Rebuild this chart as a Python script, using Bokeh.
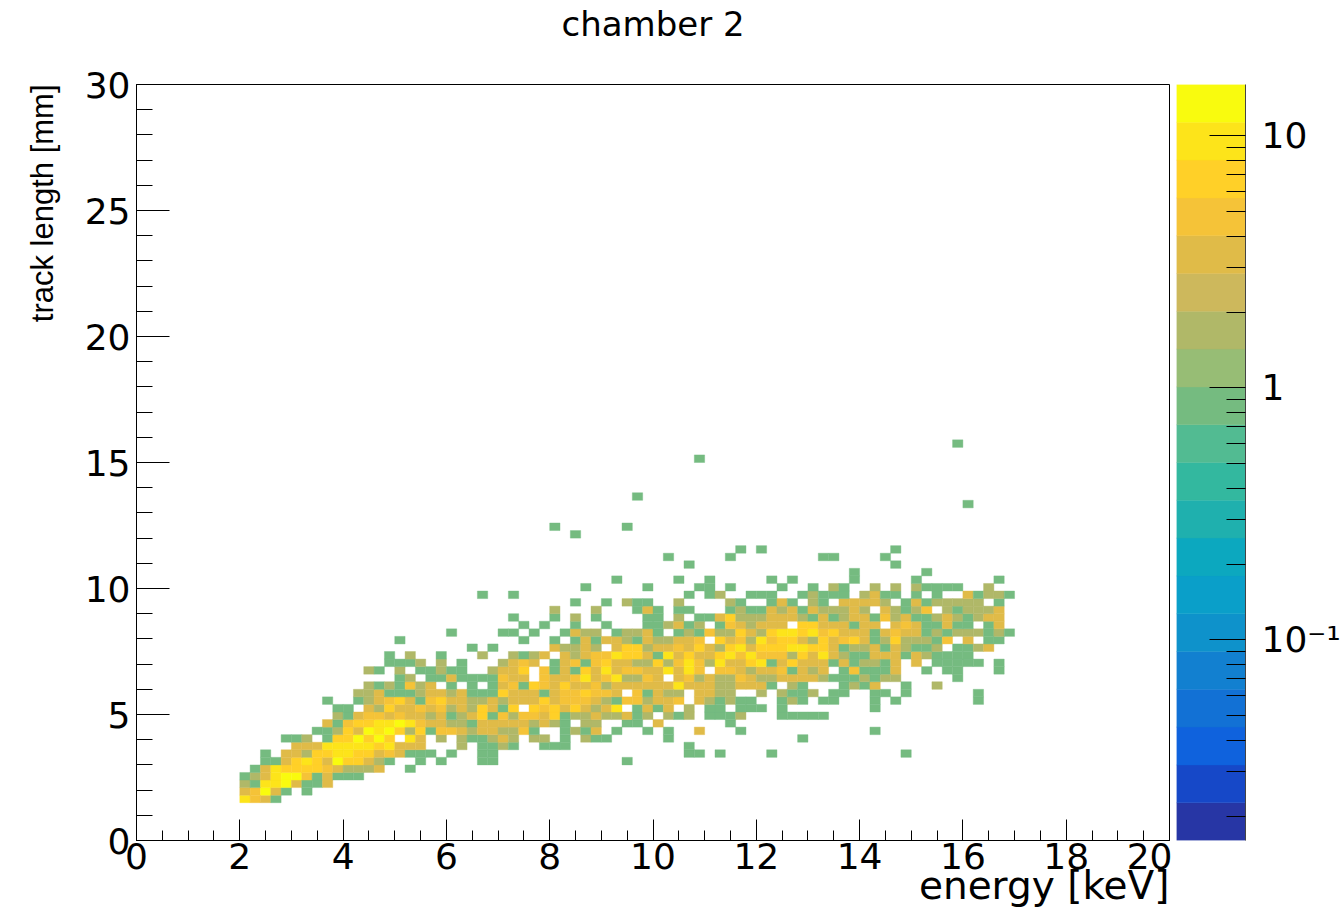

import numpy as np
from bokeh.embed import file_html
from bokeh.layouts import row
from bokeh.models import ColumnDataSource, FixedTicker, LinearAxis, LogColorMapper, SingleIntervalTicker, Title
from bokeh.plotting import figure
from bokeh.resources import INLINE
from bokeh.transform import transform

title_text = "chamber 2"
x_label = "energy [keV]"
y_label = "track length [mm]"

n_bins = 100
x_max = 20.0
y_max = 30.0
z_low = 0.016
z_high = 16.0

palette = ["#2736a5", "#1648c8", "#0f62dd", "#1271d5", "#1280d0", "#0e92cb", "#0a9fc9",
           "#0ca8bf", "#1fb0ae", "#33b89f", "#52bb92", "#75bb80", "#97bd75", "#b0b868",
           "#cdb85c", "#e0bb48", "#f5c338", "#ffd028", "#fde41a", "#f9fb0e"]

# counts: digit in a row string -> bin content
count_of_digit = [0, 1, 2, 3, 5, 7, 10, 14]

# one list per track-length bin: (first energy bin, digits of consecutive bins)
row_05 = [(10, "6431")]
row_06 = [(10, "3473101")]
row_07 = [(10, "216673113")]
row_08 = [(10, "123677413111")]
row_09 = [(11, "1365555432223001")]
row_10 = [(12, "1135653755321001010001"), (34, "1"), (47, "1")]
row_11 = [(12, "1033255665534311101001"), (34, "1"), (53, "11"), (56, "1"), (61, "1"), (74, "1")]
row_12 = [(15, "3336666656333000201"), (34, "121"), (39, "111"), (53, "1")]
row_13 = [(14, "11201557575063020211"), (34, "232"), (38, "22"), (41, "1"), (43, "211"), (51, "1"), (64, "1")]
row_14 = [(17, "11253767525144323"), (34, "32241"), (41, "1213"), (46, "1"), (49, "1"), (51, "1"), (54, "3"), (58, "1"), (71, "1")]
row_15 = [(18, "3145566764332213"), (34, "33332321"), (43, "22"), (47, "11"), (50, "3"), (57, "1")]
row_16 = [(19, "213443433231235"), (34, "14244351"), (42, "22322312"), (51, "212"), (55, "111"), (58, "2"), (62, "11111")]
row_17 = [(19, "110325334342325"), (34, "3150545353236"), (48, "1313"), (53, "2"), (55, "11"), (58, "111"), (62, "1"), (71, "1")]
row_18 = [(18, "1001234531453322"), (34, "3233353444321442334032121"), (59, "1"), (62, "121"), (66, "11"), (71, "1"), (73, "1"), (81, "1")]
row_19 = [(21, "2231112332311"), (34, "153331344544304132203322"), (60, "2"), (62, "2112"), (67, "11"), (71, "11"), (74, "1"), (81, "1")]
row_20 = [(22, "21214230101"), (34, "1341543533423333336333223"), (59, "331"), (63, "21"), (68, "1213"), (74, "1"), (77, "2")]
row_21 = [(25, "120113111"), (34, "1433043346346224303423224"), (59, "322333321112122"), (79, "1")]
row_22 = [(22, "2102011211"), (34, "2335041315"), (44, "3634433636"), (54, "40443"), (59, "233413230141113"), (76, "1"), (78, "11"), (83, "1")]
row_23 = [(24, "11120201"), (35, "234301341453322524642633"), (59, "5613533313122130301111101")]
row_24 = [(24, "1020010002"), (36, "21230323446553163533564"), (59, "6444253632113331321111")]
row_25 = [(32, "1"), (34, "1"), (40, "3223203552334353256"), (59, "355566553122313211201123")]
row_26 = [(25, "1"), (37, "1"), (40, "1"), (42, "13133213223340534"), (59, "2645532534531252221403011")]
row_27 = [(30, "1"), (35, "11"), (38, "1"), (41, "132201223101214225"), (59, "32566564533313433121222121")]
row_28 = [(37, "1"), (39, "1"), (42, "1"), (45, "1"), (49, "112312"), (56, "143"), (59, "2333055333133034311311013")]
row_29 = [(36, "1"), (40, "1"), (42, "2"), (44, "1"), (49, "11"), (52, "2"), (54, "11"), (56, "352"), (59, "2233321312331423112321233")]
row_30 = [(40, "2"), (44, "2"), (48, "131"), (52, "11"), (57, "12"), (59, "1132313222320321240212223")]
row_31 = [(42, "1"), (45, "1"), (47, "211"), (52, "2"), (57, "21"), (61, "1310210333320131"), (77, "22222"), (83, "1")]
row_32 = [(33, "1"), (36, "1"), (53, "1"), (55, "12"), (59, "111"), (64, "12111"), (70, "2311"), (75, "1"), (77, "1"), (80, "31221")]
row_33 = [(43, "1"), (49, "1"), (54, "11"), (57, "1"), (62, "1"), (65, "1"), (67, "21"), (71, "2"), (73, "2"), (75, "21111"), (82, "2")]
row_34 = [(46, "1"), (52, "1"), (55, "1"), (61, "1"), (63, "1"), (69, "1"), (75, "1"), (83, "1")]
row_35 = [(69, "1"), (76, "1")]
row_36 = [(53, "1"), (73, "1")]
row_37 = [(51, "1"), (57, "1"), (66, "11"), (72, "1")]
row_38 = [(58, "1"), (60, "1"), (73, "1")]
row_40 = [(42, "1")]
row_41 = [(40, "1"), (47, "1")]
row_44 = [(80, "1")]
row_45 = [(48, "1")]
row_50 = [(54, "1")]
row_52 = [(79, "1")]

rows = {5: row_05, 6: row_06, 7: row_07, 8: row_08, 9: row_09, 10: row_10, 11: row_11, 12: row_12,
        13: row_13, 14: row_14, 15: row_15, 16: row_16, 17: row_17, 18: row_18, 19: row_19, 20: row_20,
        21: row_21, 22: row_22, 23: row_23, 24: row_24, 25: row_25, 26: row_26, 27: row_27, 28: row_28,
        29: row_29, 30: row_30, 31: row_31, 32: row_32, 33: row_33, 34: row_34, 35: row_35, 36: row_36,
        37: row_37, 38: row_38, 40: row_40, 41: row_41, 44: row_44, 45: row_45, 50: row_50, 52: row_52}

z_ticks = [0.1, 1, 10]
z_minor = [0.02, 0.03, 0.04, 0.05, 0.06, 0.07, 0.08, 0.09, 0.2, 0.3, 0.4, 0.5, 0.6, 0.7, 0.8, 0.9,
           2, 3, 4, 5, 6, 7, 8, 9]
z_labels = {0.1: "10\u207b\u00b9", 1: "1", 10: "10"}

LABEL_FONT = "DejaVu Sans"

ix, iy, counts = [], [], []
for j, segments in rows.items():
    for first, digits in segments:
        for k, d in enumerate(digits):
            if d != "0":
                ix.append(first + k)
                iy.append(j)
                counts.append(count_of_digit[int(d)])
ix, iy = np.array(ix), np.array(iy)
dx, dy = x_max / n_bins, y_max / n_bins
source = ColumnDataSource(dict(left=ix * dx, right=(ix + 1) * dx, bottom=iy * dy, top=(iy + 1) * dy, count=counts))
mapper = LogColorMapper(palette=palette, low=z_low, high=z_high)

p = figure(frame_width=1033, frame_height=756, x_range=(0, x_max), y_range=(0, y_max),
           output_backend="svg", toolbar_location=None,
           min_border_left=136, min_border_right=3, min_border_top=84, min_border_bottom=69)
p.quad(left="left", right="right", bottom="bottom", top="top", source=source,
       fill_color=transform("count", mapper), line_color=transform("count", mapper), line_width=0.4)

p.grid.visible = False
p.outline_line_color = "#000000"
p.outline_line_width = 1

p.xaxis.ticker = SingleIntervalTicker(interval=2, num_minor_ticks=4)
p.yaxis.ticker = SingleIntervalTicker(interval=5, num_minor_ticks=5)
p.xaxis.major_tick_in, p.xaxis.major_tick_out = 21, 0
p.xaxis.minor_tick_in, p.xaxis.minor_tick_out = 10, 0
p.yaxis.major_tick_in, p.yaxis.major_tick_out = 33, 0
p.yaxis.minor_tick_in, p.yaxis.minor_tick_out = 16, 0
p.yaxis.major_label_orientation = "horizontal"
for ax in (p.xaxis[0], p.yaxis[0]):
    ax.major_label_text_font = LABEL_FONT
    ax.major_label_text_font_size = "36px"
    ax.major_label_text_color = "#000000"
    ax.axis_line_color = "#000000"
    ax.major_tick_line_color = "#000000"
    ax.minor_tick_line_color = "#000000"
p.xaxis.major_label_standoff = 2
p.yaxis.major_label_standoff = 6

# the plot title is the label of an otherwise empty axis above the frame
title_axis = LinearAxis(ticker=FixedTicker(ticks=[]), axis_label=title_text, axis_label_text_font=LABEL_FONT,
                        axis_label_text_font_size="34px", axis_label_text_font_style="normal",
                        axis_label_text_color="#000000", axis_label_standoff=41,
                        axis_line_color=None, major_tick_line_color=None, minor_tick_line_color=None,
                        major_tick_in=0, major_tick_out=0, minor_tick_in=0, minor_tick_out=0)
p.add_layout(title_axis, "above")

p.add_layout(Title(text=x_label, align="right", text_font=LABEL_FONT, text_font_size="39px",
                   text_font_style="normal", text_color="#000000", standoff=-21), "below")
p.add_layout(Title(text=y_label, align="right", text_font="Liberation Sans", text_font_size="31px",
                   text_font_style="normal", text_color="#000000", standoff=44), "left")

# colour scale: one band per palette entry, on a log axis
edges = np.geomspace(z_low, z_high, len(palette) + 1)
bar = figure(frame_width=69, frame_height=756, x_range=(0, 1), y_range=(z_low, z_high), y_axis_type="log",
             output_backend="svg", toolbar_location=None, y_axis_location="right",
             min_border_left=4, min_border_right=95, min_border_top=84, min_border_bottom=69)
bar.quad(left=0, right=1, bottom=edges[:-1], top=edges[1:], fill_color=palette, line_color=palette, line_width=0.4)
bar.grid.visible = False
bar.xaxis.visible = False
bar.outline_line_color = None
bar.yaxis.ticker = FixedTicker(ticks=z_ticks, minor_ticks=z_minor)
bar.yaxis.major_label_overrides = z_labels
bar.yaxis.major_tick_in, bar.yaxis.major_tick_out = 36, 0
bar.yaxis.minor_tick_in, bar.yaxis.minor_tick_out = 19, 0
bar.yaxis.axis_line_color = "#444444"
bar.yaxis.major_tick_line_color = "#000000"
bar.yaxis.minor_tick_line_color = "#000000"
bar.yaxis.major_label_text_font = LABEL_FONT
bar.yaxis.major_label_text_font_size = "36px"
bar.yaxis.major_label_text_color = "#000000"
bar.yaxis.major_label_standoff = 16

layout = row(p, bar, spacing=0)
open("out.html", "w").write(file_html(layout, INLINE))
